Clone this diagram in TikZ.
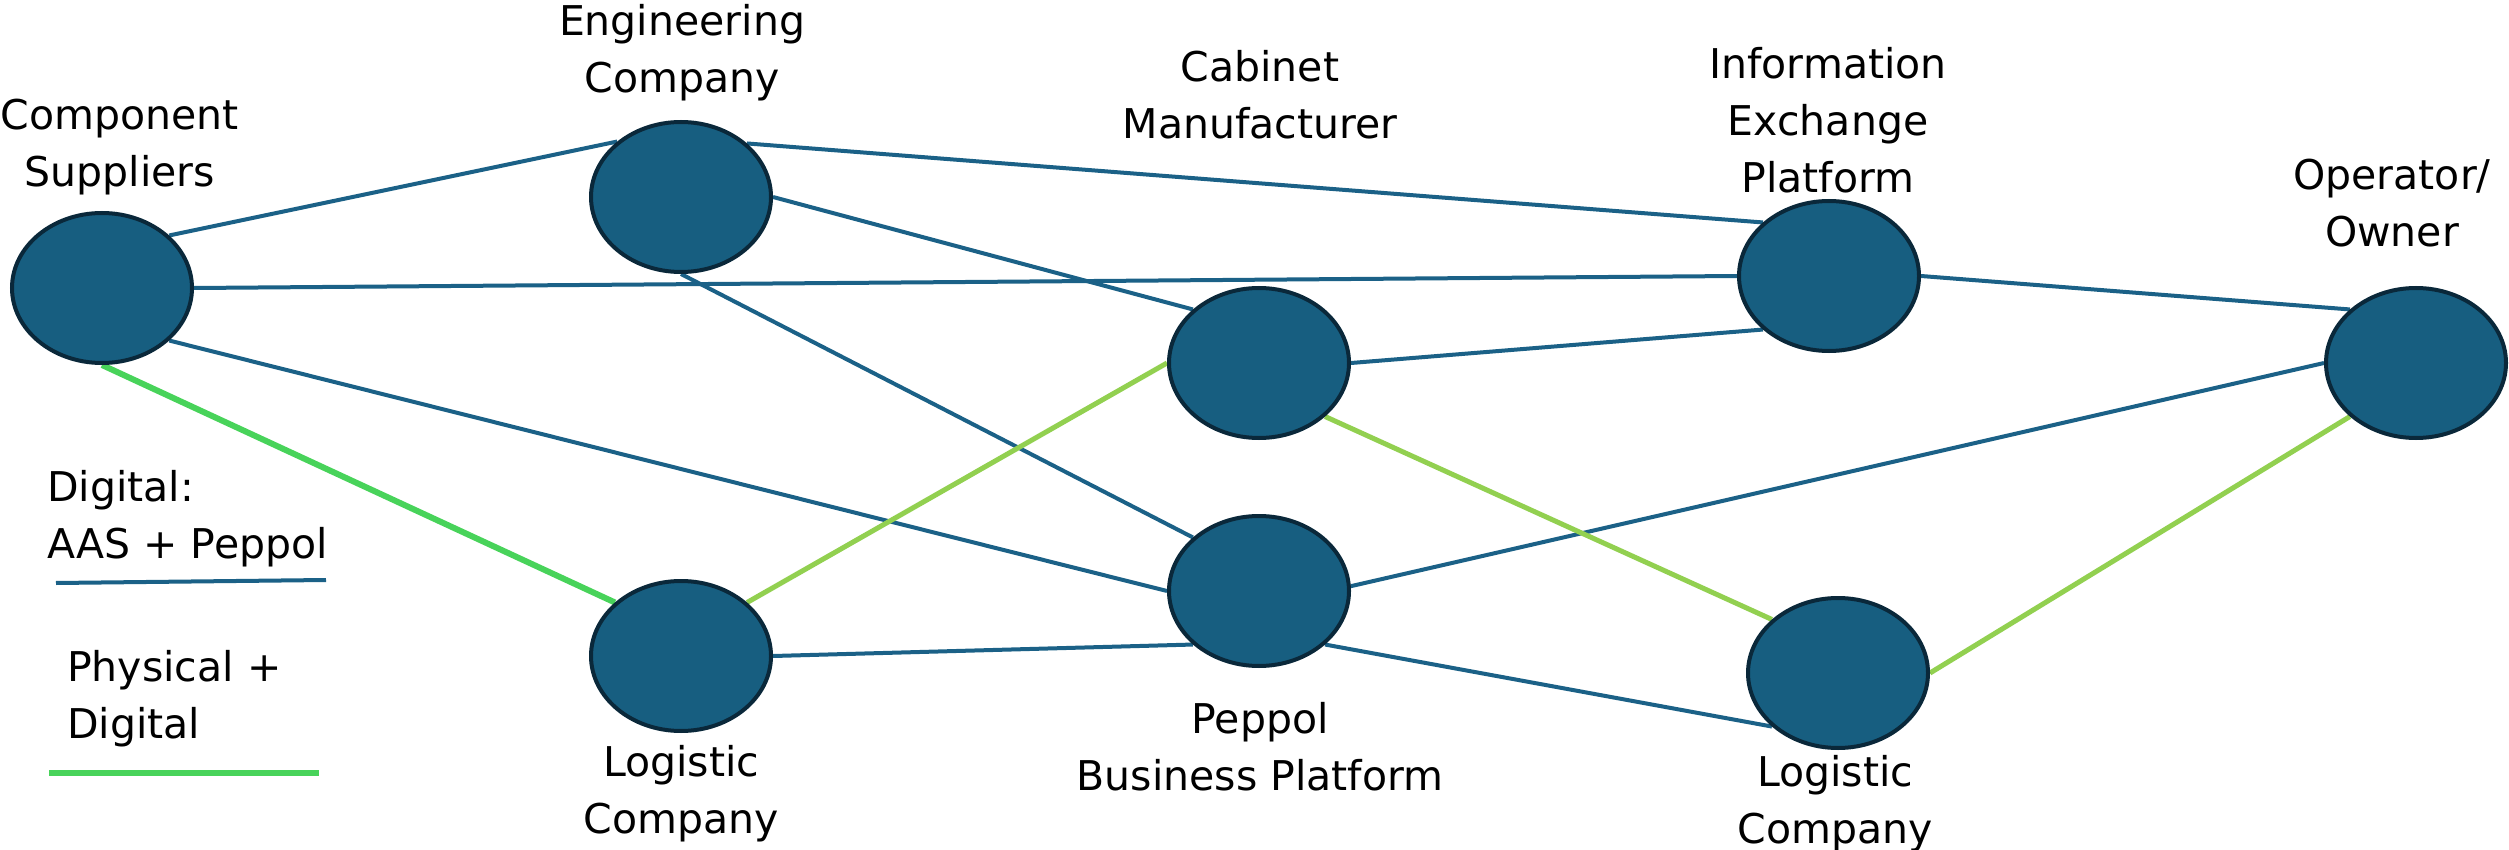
\documentclass[tikz,border=0pt]{standalone}
\usepackage{fontspec}
\setmainfont{DejaVu Sans}
\usetikzlibrary{shapes.geometric,backgrounds}
\definecolor{nodefill}{RGB}{23,94,128}
\definecolor{nodeline}{RGB}{10,40,58}
\definecolor{digblue}{RGB}{27,97,135}
\definecolor{physgreen}{RGB}{72,211,90}
\definecolor{limegreen}{RGB}{146,208,80}
\tikzset{
  actor/.style={ellipse, draw=nodeline, fill=nodefill, line width=4pt,
    minimum width=180pt, minimum height=150pt, inner sep=0pt},
  lbl/.style={font=\fontsize{41}{57}\selectfont, align=center, anchor=base, inner sep=0pt},
  digital/.style={draw=digblue, line width=4pt},
  physical/.style={draw=physgreen, line width=6pt},
  physlime/.style={draw=limegreen, line width=5pt}
}
\begin{document}
\begin{tikzpicture}[x=1pt,y=-1pt]
\useasboundingbox (0,0) rectangle (2509,850);
% actors
\node[actor] (cs)  at (102,288) {};
\node[actor] (ec)  at (681,197) {};
\node[actor] (cm)  at (1259,363) {};
\node[actor] (iep) at (1829,276) {};
\node[actor] (oo)  at (2416,363) {};
\node[actor] (pbp) at (1259,591) {};
\node[actor] (lc1) at (681,656) {};
\node[actor] (lc2) at (1838,673) {};
% labels (placed at baseline of last line)
\node[lbl] (tcs)  at (120,187) {Component\\Suppliers};
\node[lbl] (tec)  at (682,93)  {Engineering\\Company};
\node[lbl] (tcm)  at (1260,139) {Cabinet\\Manufacturer};
\node[lbl] (tiep) at (1828,193) {Information\\Exchange\\Platform};
\node[lbl] (too)  at (2392,247) {Operator/\\Owner};
\node[lbl] (tpbp) at (1260,790) {Peppol\\Business Platform};
\node[lbl] (tlc1) at (681,833) {Logistic\\Company};
\node[lbl] (tlc2) at (1835,843) {Logistic\\Company};
% legend
\node[lbl, align=left, anchor=base west] (ldig) at (47,558) {Digital:\\AAS + Peppol};
\node[lbl, align=left, anchor=base west] (lphys) at (67,738) {Physical +\\Digital};
\coordinate (lb1) at (56,583);
\coordinate (lb2) at (326,580);
\coordinate (lg1) at (49,773);
\coordinate (lg2) at (319,773);
\draw[digital] (lb1) -- (lb2);
\draw[physical] (lg1) -- (lg2);
% connectors
\begin{scope}[on background layer]
\fill[white] (0,0) rectangle (2509,850);
\draw[digital] (cs.38) -- (ec.139);
\draw[digital] (ec.39) -- (iep.141);
\draw[digital] (cs.0) -- (iep.180);
\draw[digital] (ec.0) -- (cm.141);
\draw[digital] (ec.-90) -- (pbp.141);
\draw[digital] (cs.-38) -- (pbp.180);
\draw[digital] (cm.0) -- (iep.219);
\draw[digital] (iep.0) -- (oo.141);
\draw[digital] (pbp.3) -- (oo.180);
\draw[digital] (lc1.0) -- (pbp.219);
\draw[digital] (pbp.-39) -- (lc2.219);
\draw[physical] (cs.-90) -- (lc1.141);
\draw[physlime] (lc1.39) -- (cm.180);
\draw[physlime] (cm.-39) -- (lc2.141);
\draw[physlime] (lc2.0) -- (oo.219);
\end{scope}
\end{tikzpicture}
\end{document}
